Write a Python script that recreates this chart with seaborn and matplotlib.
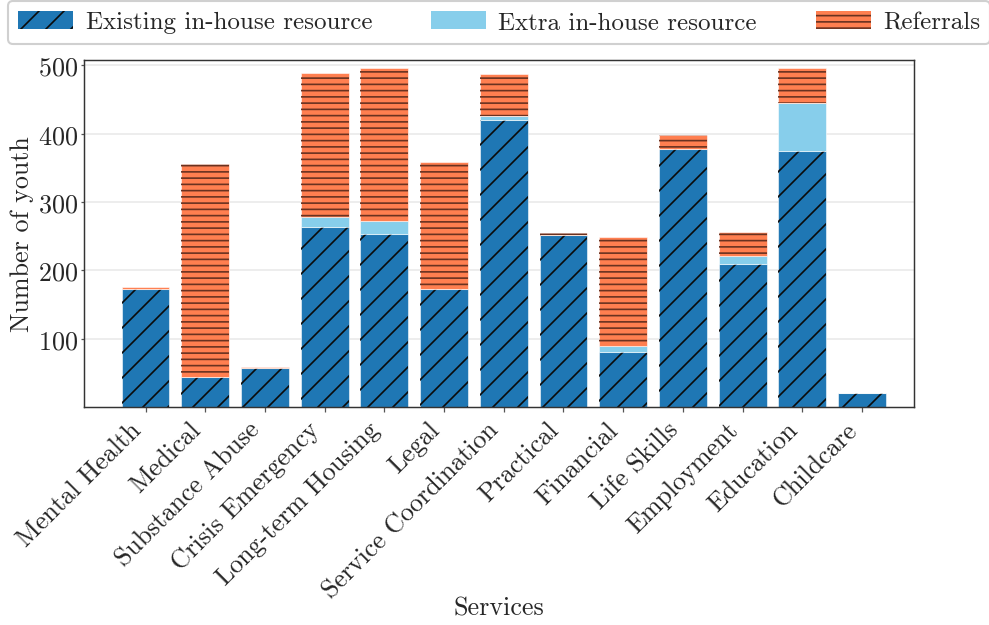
import matplotlib
matplotlib.use("Agg")
import matplotlib.pyplot as plt
from matplotlib.patches import Patch
import seaborn as sns
import numpy as np
import pandas as pd

services = ["Mental Health", "Medical", "Substance Abuse", "Crisis Emergency",
            "Long-term Housing", "Legal", "Service Coordination", "Practical",
            "Financial", "Life Skills", "Employment", "Education", "Childcare"]
existing = [173, 44, 57, 264, 253, 173, 420, 252, 81, 377, 210, 375, 21]
extra = [0, 0, 0, 14, 19, 0, 6, 0, 9, 0, 11, 70, 0]
referrals = [3, 312, 2, 211, 224, 186, 62, 3, 159, 21, 35, 52, 0]
y_ticks = [100, 200, 300, 400, 500]

sns.set_theme(style="white")
plt.rcParams.update({
    "font.family": ["cmr10", "DejaVu Serif"],
    "mathtext.fontset": "cm",
    "axes.unicode_minus": False,
    "axes.formatter.use_mathtext": True,
    "hatch.linewidth": 0.8,
})

df = pd.DataFrame({"service": services, "existing": existing,
                   "extra": extra, "referrals": referrals})

layers = [
    ("existing", "Existing in-house resource", "#1f77b4", "//", "#0b0b0b"),
    ("extra", "Extra in-house resource", "#87ceeb", None, None),
    ("referrals", "Referrals", "#ff7f50", "----", "#6a3220"),
]

fig = plt.figure(figsize=(989 / 150, 626 / 150), dpi=150)
ax = fig.add_axes([84 / 989, 1 - 408 / 626, 830 / 989, 347 / 626])

bottom = np.zeros(len(services))
handles = []
for col, label, color, hatch, hcolor in layers:
    sns.barplot(data=df, x="service", y=col, color=color, saturation=1,
                width=0.8, errorbar=None, bottom=bottom,
                edgecolor=(1, 1, 1, 0.55), linewidth=0.5, ax=ax)
    if hatch:
        sns.barplot(data=df, x="service", y=col, color=hcolor, fill=False,
                    width=0.8, errorbar=None, bottom=bottom, hatch=hatch,
                    linewidth=0, ax=ax)
        handles.append(Patch(facecolor=color, edgecolor=hcolor, hatch=hatch,
                             linewidth=0, label=label))
    else:
        handles.append(Patch(facecolor=color, linewidth=0, label=label))
    bottom = bottom + df[col].to_numpy()

ax.set_xlim(-1.03, 12.87)
ax.set_ylim(0, 508)
ax.set_yticks(y_ticks)
ax.set_axisbelow(True)
ax.yaxis.grid(True, color="#ececec", linewidth=0.9)
ax.xaxis.grid(False)

for s in ax.spines.values():
    s.set_color("#333333")
    s.set_linewidth(0.7)

ax.tick_params(axis="x", labelsize=12.5, length=2.5, width=0.6,
               color="#555555", pad=2.5, bottom=True)
ax.tick_params(axis="y", labelsize=12.5, length=1.5, width=0.6,
               color="#555555", pad=1.5, left=True)
plt.setp(ax.get_xticklabels(), rotation=45, ha="right")

ax.set_xlabel("Services", fontsize=12.5)
ax.set_ylabel("Number of youth", fontsize=12.5)
ax.xaxis.set_label_coords(0.5, -0.545)
ax.yaxis.set_label_coords(-0.060, 0.5)

fig.legend(handles=handles, loc="upper left", bbox_to_anchor=(8 / 989, 1 - 2 / 626),
           ncol=3, fontsize=12, frameon=True, fancybox=True, framealpha=1,
           edgecolor="#d0d0d0", handlelength=2.2, handleheight=0.7,
           handletextpad=0.5, columnspacing=2.35, borderaxespad=0)

fig.savefig("out.png", dpi=150)
